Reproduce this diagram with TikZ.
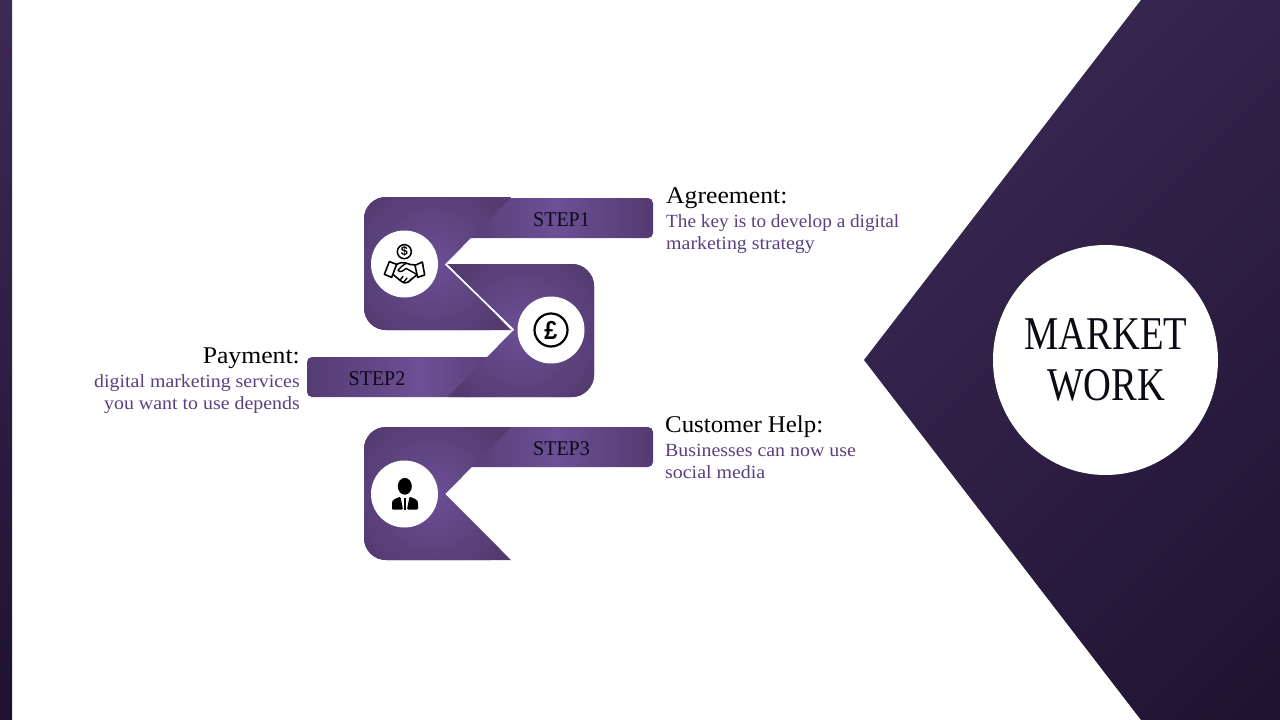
\documentclass[tikz,border=0pt]{standalone}
\usepackage{fontspec}
\setmainfont[FakeStretch=1.07]{Liberation Serif}
\newfontfamily\iconsans{Liberation Sans}
\newfontfamily\poundfont[FakeStretch=0.9]{Liberation Sans}
\newfontfamily\titlefont[FakeStretch=0.82]{Liberation Serif}
\newfontfamily\stepfont[FakeStretch=0.95]{Liberation Serif}
\newfontfamily\snugfont[FakeStretch=1.035]{Liberation Serif}
\definecolor{plight}{HTML}{6C4F95}
\definecolor{pdark}{HTML}{533B70}
\definecolor{bigtop}{HTML}{3A2853}
\definecolor{bigbot}{HTML}{1E1230}
\definecolor{bandtop}{HTML}{3C2A56}
\definecolor{desc}{HTML}{5A4080}
\definecolor{ink}{HTML}{0C0A14}
\tikzset{
 x=1pt,y=-1pt,
 wcircle/.style={fill=white,draw=none},
 head/.style={font=\fontsize{24}{24}\selectfont,text=black,inner sep=0pt},
 descr/.style={font=\fontsize{18.6}{22}\selectfont,text=desc,inner sep=0pt},
 steplabel/.style={font=\stepfont\fontsize{21}{21}\selectfont,text=ink,inner sep=0pt},
 iconline/.style={draw=black,line width=1.6pt,line join=round,line cap=round,fill=white},
 iconstroke/.style={draw=black,line width=1.4pt,line join=round,line cap=round},
}
% #1 vertical offset of the shape, #2 vertical offset of its tab
\newcommand{\notchL}[2]{%
 \begin{scope}[yshift=-#2pt]
  \begin{scope}
   \clip (490,198) [rounded corners=5pt] -- (653,198) -- (653,238) [sharp corners] -- (471,238) -- (465,225) -- cycle;
   \shade[left color=pdark,right color=plight] (450,190) rectangle (555,245);
   \shade[left color=plight,right color=pdark] (555,190) rectangle (654,245);
  \end{scope}
 \end{scope}
 \begin{scope}[yshift=-#1pt]
  \begin{scope}
   \clip (511,197) -- (445,264) -- (511,330) [rounded corners=22pt] -- (364,330) -- (364,197) [sharp corners] -- cycle;
   \fill[pdark] (360,190) rectangle (520,335);
   \shade[inner color=plight,outer color=pdark] (432,264) circle (88);
  \end{scope}
 \end{scope}}
\begin{document}
\begin{tikzpicture}
\useasboundingbox (0,0) rectangle (1280,720);
\fill[white] (0,0) rectangle (1280,720);
% left band
\shade[top color=bandtop,bottom color=bigbot] (0,0) rectangle (12,720);
% big right arrow
\begin{scope}
 \clip (1141,0) -- (864,360) -- (1141,720) -- (1280,720) -- (1280,0) -- cycle;
 \shade[top color=bigtop,bottom color=bigbot,shading angle=45] (789,0) rectangle (1509,720);
\end{scope}
\fill[wcircle] (1105.5,360) ellipse [x radius=112.5,y radius=115];
\node[font=\titlefont\fontsize{47}{51}\selectfont,text=ink,align=center,inner sep=0pt] (title) at (1106,360) {MARKET\\WORK};

% shapes
\notchL{0}{0}
\begin{scope}
 \clip (488,357) -- (495,365) -- (470,397) [rounded corners=5pt] -- (307,397) -- (307,357) [sharp corners] -- cycle;
 \shade[left color=pdark,right color=plight] (300,350) rectangle (420,400);
 \shade[left color=plight,right color=pdark] (420,350) rectangle (520,400);
\end{scope}
\begin{scope}
 \clip (447,264) [rounded corners=22pt] -- (594,264) -- (594,397) [sharp corners] -- (448,397) -- (514,330) -- cycle;
 \fill[pdark] (440,260) rectangle (600,400);
 \shade[inner color=plight,outer color=pdark] (522,330) circle (88);
\end{scope}
\notchL{230}{229}

\draw[white,line width=1.6pt] (445.5,264) -- (513.5,330);

% circles
\fill[wcircle] (404.5,264) circle (33.5);
\fill[wcircle] (551,330) circle (33.5);
\fill[wcircle] (404.5,494) circle (33.5);

% handshake icon (zoom coordinates)
\begin{scope}[shift={(350,185)},x=0.3333pt,y=-0.3333pt]
 \draw[black,line width=1.5pt,fill=white] (163,200) circle (21);
 \node[font=\iconsans\bfseries\fontsize{12.5}{12.5}\selectfont,inner sep=0pt] (dollar) at (163,200) {\$};
 \draw[iconline] (138,240) .. controls (150,232) and (158,231) .. (167,234) .. controls (176,238) and (186,240) .. (197,240) -- (205,266) -- (176,290) .. controls (168,296) and (160,294) .. (150,286) -- (124,264) -- cycle;
 \draw[iconstroke] (168,235) .. controls (158,240) and (150,248) .. (144,256) .. controls (150,264) and (160,258) .. (168,250) -- (200,268);
 \draw[iconstroke] (150,286) -- (159,274) (160,293) -- (171,279) (176,290) -- (186,280);
 \draw[iconline] (118,230) -- (103,268) -- (125,277) -- (140,238) -- cycle;
 \draw[iconline] (195,241) -- (217,231) -- (224,270) -- (203,277) -- cycle;
\end{scope}

% pound icon
\draw[black,line width=2.2pt,fill=white] (551,330) circle (16.5);
\node[font=\poundfont\bfseries\fontsize{26}{26}\selectfont,text=black,inner sep=0pt] (pound) at (551,330) {£};

% person icon
\fill[black] (404.8,486.3) ellipse [x radius=7,y radius=8.4];
\fill[black,rounded corners=1pt] (392,509.5) -- (392,503) .. controls (392.5,500) and (396,498) .. (400.5,496.8) -- (403,509.5) -- cycle;
\fill[black,rounded corners=1pt] (418,509.5) -- (418,503) .. controls (417.5,500) and (414,498) .. (409.5,496.8) -- (407,509.5) -- cycle;
\fill[black] (403.9,498) -- (406.1,498) -- (406.1,509.5) -- (403.9,509.5) -- cycle;

% labels
\node[steplabel,anchor=base] (s1) at (561.5,226) {STEP1};
\node[steplabel,anchor=base] (s2) at (377,385) {STEP2};
\node[steplabel,anchor=base] (s3) at (561.5,455) {STEP3};

\node[head,anchor=base west] (a1) at (666,203) {Agreement:};
\node[descr,anchor=base west] (a2) at (666,227) {\snugfont The key is to develop a digital};
\node[descr,anchor=base west] (a3) at (666,249) {marketing strategy};

\node[head,anchor=base east] (b1) at (300,363) {Payment:};
\node[descr,anchor=base east] (b2) at (300,387) {digital marketing services};
\node[descr,anchor=base east] (b3) at (300,409) {you want to use depends};

\node[head,font=\snugfont\fontsize{24}{24}\selectfont,anchor=base west] (c1) at (665,432) {Customer Help:};
\node[descr,anchor=base west] (c2) at (665,456) {Businesses can now use};
\node[descr,anchor=base west] (c3) at (665,478) {social media};
\end{tikzpicture}
\end{document}
